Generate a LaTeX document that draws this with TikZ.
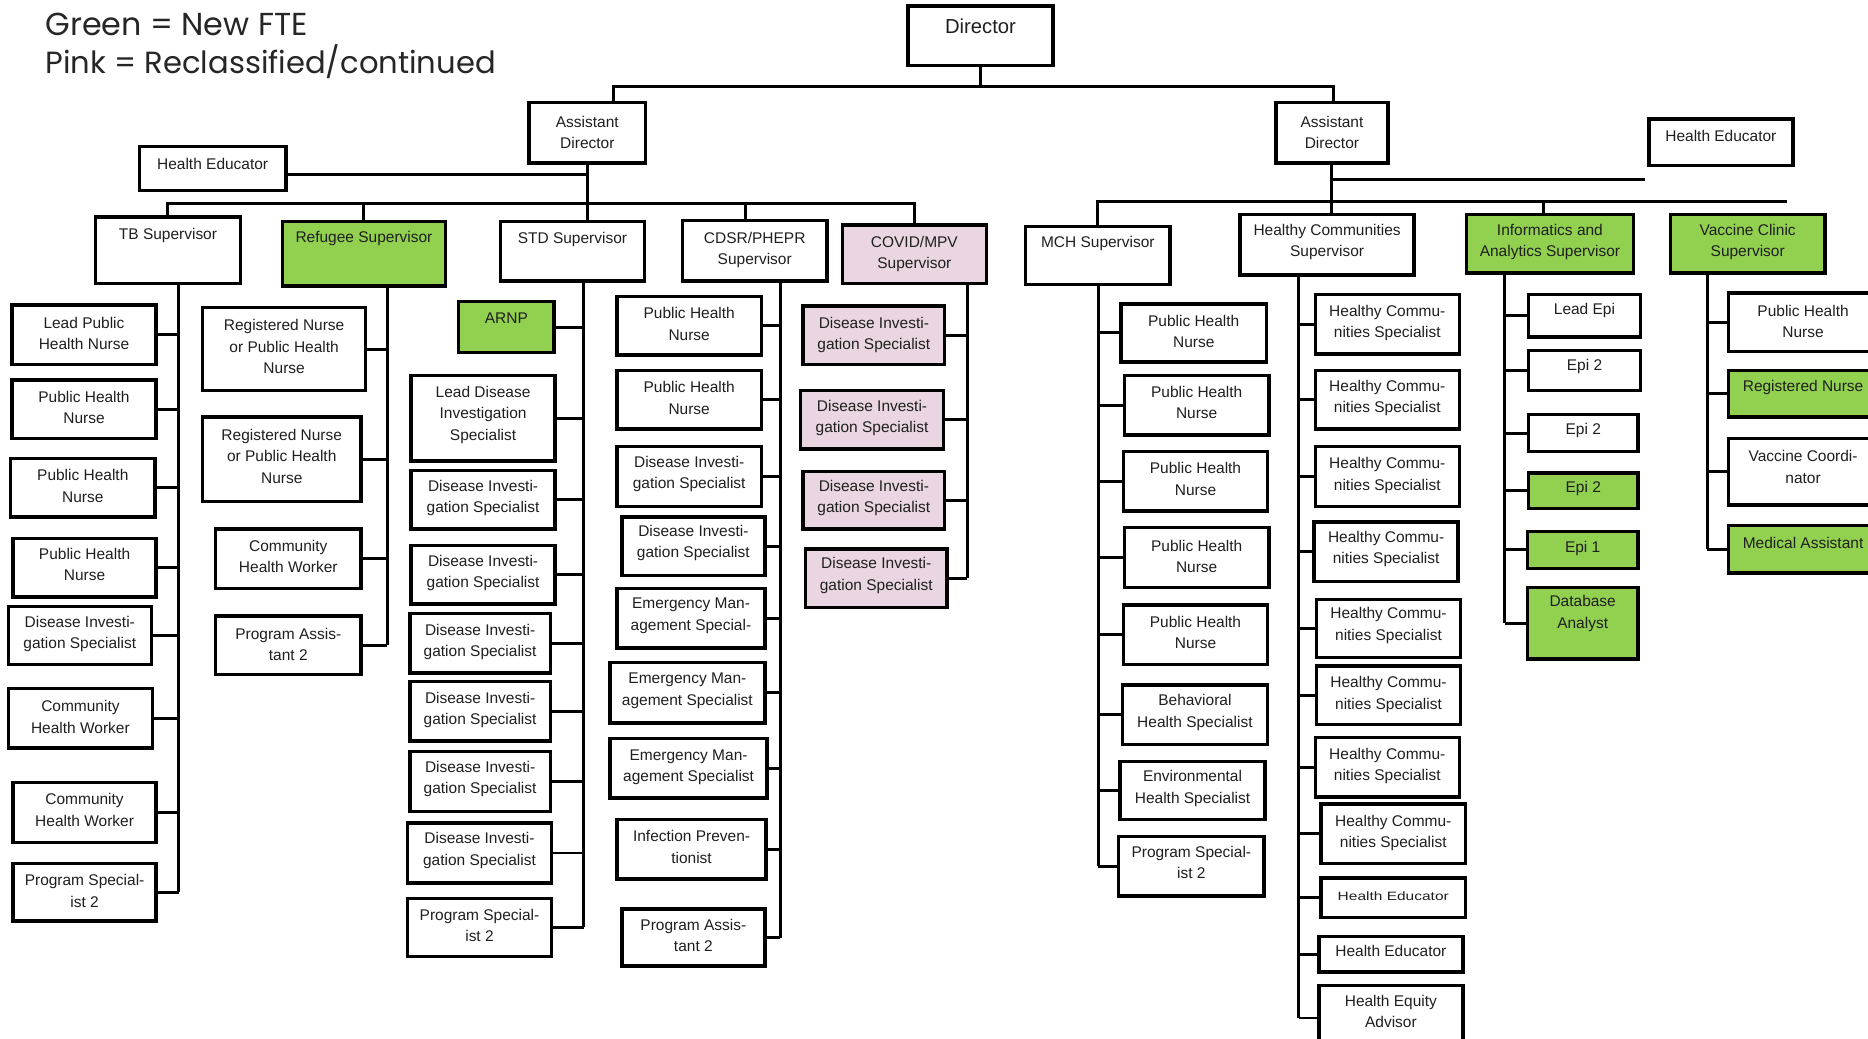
\documentclass[tikz,border=0pt]{standalone}
\usepackage{fontspec}
\setmainfont{Liberation Sans}
\newfontfamily\legendfont{Poppins}
\usepackage{graphicx}
\definecolor{newfte}{RGB}{146,208,80}
\definecolor{reclass}{RGB}{233,214,226}
\tikzset{
  box/.style={draw=black, line width=2.9pt, fill=white, rectangle, inner sep=0pt, outer sep=0pt},
  fte/.style={fill=newfte},
  pinkbox/.style={fill=reclass},
  lbl/.style={inner sep=0pt, align=center, font=\fontsize{13}{18}\selectfont, text=black!88},
  conn/.style={line width=2.5pt, line join=miter},
}
% name, x1, y1, x2, y2, extra style, text, text centre y
\newcommand\orgbox[8]{%
  \node[box,#6,minimum width={(#4)-(#2)},minimum height={(#5)-(#3)}] (#1) at ({((#2)+(#4))/2},{((#3)+(#5))/2}) {};
  \node[lbl] at ({((#2)+(#4))/2},#8) {#7};
}
\begin{document}
\begin{tikzpicture}[x=1pt,y=-1pt]
\clip (0,0) rectangle (1568,872);
\fill[white] (0,0) rectangle (1568,872);

% legend
\node[anchor=base west, inner sep=0pt, text=black!85] (leg1) at (38,30) {\resizebox{220pt}{!}{\legendfont Green = New FTE}};
\node[anchor=base west, inner sep=0pt, text=black!85] (leg2) at (38,62) {\resizebox{378pt}{!}{\legendfont Pink = Reclassified/continued}};

% top levels
\node[box, line width=3.2pt, minimum width=122, minimum height=50] (dir) at (823,30) {};
\node[lbl, font=\fontsize{17}{20}\selectfont] at (823,22) {Director};
\orgbox{ad1}{444}{86}{542}{137}{}{Assistant\\Director}{111}
\orgbox{ad2}{1071}{86}{1165}{137}{}{Assistant\\Director}{111}
\orgbox{he1}{117}{123}{240}{160}{}{Health Educator}{138}
\orgbox{he2}{1384}{100}{1505}{139}{}{Health Educator}{114}

% supervisors
\orgbox{tbsup}{80}{182}{202}{238}{}{TB Supervisor}{198}
\orgbox{ref}{237}{186}{374}{240}{fte}{Refugee Supervisor}{200}
\orgbox{std}{420}{186}{541}{236}{}{STD Supervisor}{201}
\orgbox{cdsr}{573}{185}{694}{236}{}{CDSR/PHEPR\\Supervisor}{210}
\orgbox{covid}{707}{189}{828}{238}{pinkbox}{COVID/MPV\\Supervisor}{213}
\orgbox{mch}{861}{190}{982}{239}{}{MCH Supervisor}{204}
\orgbox{hcsup}{1041}{180}{1187}{231}{}{Healthy Communities\\Supervisor}{203}
\orgbox{inf}{1231}{180}{1371}{229}{fte}{Informatics and\\Analytics Supervisor}{203}
\orgbox{vac}{1402}{180}{1532}{229}{fte}{Vaccine Clinic\\Supervisor}{203}

% TB staff
\orgbox{tb1}{10}{256}{131}{306}{}{Lead Public\\Health Nurse}{280}
\orgbox{tb2}{10}{319}{131}{368}{}{Public Health\\Nurse}{342}
\orgbox{tb3}{9}{385}{130}{434}{}{Public Health\\Nurse}{408}
\orgbox{tb4}{11}{452}{131}{501}{}{Public Health\\Nurse}{474}
\orgbox{tb5}{7}{509}{127}{558}{}{Disease Investi-\\gation Specialist}{532}
\orgbox{tb6}{7}{578}{128}{628}{}{Community\\Health Worker}{602}
\orgbox{tb7}{11}{657}{131}{707}{}{Community\\Health Worker}{680}
\orgbox{tb8}{11}{725}{131}{773}{}{Program Special-\\ist 2}{748}

% Refugee staff
\orgbox{rf1}{170}{258}{307}{328}{}{Registered Nurse\\or Public Health\\Nurse}{291}
\orgbox{rf2}{170}{350}{303}{421}{}{Registered Nurse\\or Public Health\\Nurse}{383}
\orgbox{rf3}{181}{444}{303}{494}{}{Community\\Health Worker}{467}
\orgbox{rf4}{181}{517}{303}{566}{}{Program Assis-\\tant 2}{541}

% STD staff
\orgbox{sd1}{385}{253}{465}{296}{fte}{ARNP}{267}
\orgbox{sd2}{345}{315}{466}{387}{}{Lead Disease\\Investigation\\Specialist}{348}
\orgbox{sd3}{345}{395}{466}{444}{}{Disease Investi-\\gation Specialist}{418}
\orgbox{sd4}{345}{458}{466}{507}{}{Disease Investi-\\gation Specialist}{481}
\orgbox{sd5}{344}{515}{462}{565}{}{Disease Investi-\\gation Specialist}{539}
\orgbox{sd6}{344}{572}{462}{622}{}{Disease Investi-\\gation Specialist}{596}
\orgbox{sd7}{344}{631}{462}{681}{}{Disease Investi-\\gation Specialist}{654}
\orgbox{sd8}{342}{691}{463}{741}{}{Disease Investi-\\gation Specialist}{714}
\orgbox{sd9}{342}{754}{463}{803}{}{Program Special-\\ist 2}{777}

% CDSR/PHEPR staff
\orgbox{cd1}{518}{249}{639}{298}{}{Public Health\\Nurse}{272}
\orgbox{cd2}{518}{311}{639}{360}{}{Public Health\\Nurse}{334}
\orgbox{cd3}{518}{375}{639}{425}{}{Disease Investi-\\gation Specialist}{398}
\orgbox{cd4}{522}{434}{642}{483}{}{Disease Investi-\\gation Specialist}{456}
\orgbox{cd5}{518}{494}{642}{544}{}{Emergency Man-\\agement Special-}{517}
\orgbox{cd6}{512}{556}{642}{607}{}{Emergency Man-\\agement Specialist}{580}
\orgbox{cd7}{512}{620}{644}{670}{}{Emergency Man-\\agement Specialist}{644}
\orgbox{cd8}{518}{688}{643}{738}{}{Infection Preven-\\tionist}{711}
\orgbox{cd9}{522}{763}{642}{811}{}{Program Assis-\\tant 2}{785}

% COVID/MPV staff
\orgbox{cv1}{674}{257}{793}{306}{pinkbox}{Disease Investi-\\gation Specialist}{281}
\orgbox{cv2}{672}{328}{792}{377}{pinkbox}{Disease Investi-\\gation Specialist}{351}
\orgbox{cv3}{674}{396}{793}{444}{pinkbox}{Disease Investi-\\gation Specialist}{418}
\orgbox{cv4}{676}{461}{795}{510}{pinkbox}{Disease Investi-\\gation Specialist}{483}

% MCH staff
\orgbox{m1}{941}{255}{1063}{304}{}{Public Health\\Nurse}{278}
\orgbox{m2}{944}{315}{1065}{365}{}{Public Health\\Nurse}{338}
\orgbox{m3}{943}{379}{1064}{429}{}{Public Health\\Nurse}{402}
\orgbox{m4}{944}{443}{1065}{493}{}{Public Health\\Nurse}{467}
\orgbox{m5}{943}{508}{1064}{558}{}{Public Health\\Nurse}{531}
\orgbox{m6}{942}{575}{1064}{625}{}{Behavioral\\Health Specialist}{598}
\orgbox{m7}{940}{639}{1062}{688}{}{Environmental\\Health Specialist}{662}
\orgbox{m8}{939}{702}{1061}{752}{}{Program Special-\\ist 2}{724}

% Healthy Communities staff
\orgbox{h1}{1104}{247}{1225}{297}{}{Healthy Commu-\\nities Specialist}{271}
\orgbox{h2}{1104}{311}{1225}{360}{}{Healthy Commu-\\nities Specialist}{334}
\orgbox{h3}{1104}{375}{1225}{425}{}{Healthy Commu-\\nities Specialist}{399}
\orgbox{h4}{1103}{438}{1224}{488}{}{Healthy Commu-\\nities Specialist}{461}
\orgbox{h5}{1105}{503}{1226}{552}{}{Healthy Commu-\\nities Specialist}{525}
\orgbox{h6}{1105}{559}{1226}{608}{}{Healthy Commu-\\nities Specialist}{583}
\orgbox{h7}{1104}{619}{1225}{669}{}{Healthy Commu-\\nities Specialist}{643}
\orgbox{h8}{1109}{675}{1230}{725}{}{Healthy Commu-\\nities Specialist}{699}
\orgbox{h9}{1109}{737}{1230}{770}{}{\scalebox{1}[0.78]{Health Educator}}{752}
\orgbox{h10}{1107}{786}{1228}{816}{}{Health Educator}{798}
\orgbox{h11}{1107}{827}{1228}{882}{}{Health Equity\\Advisor}{849}

% Informatics staff
\orgbox{i1}{1283}{247}{1377}{283}{}{Lead Epi}{261}
\orgbox{i2}{1283}{294}{1377}{328}{}{Epi 2}{308}
\orgbox{i3}{1283}{348}{1375}{379}{}{Epi 2}{361}
\orgbox{i4}{1283}{397}{1375}{427}{fte}{Epi 2}{410}
\orgbox{i5}{1282}{446}{1375}{477}{fte}{Epi 1}{460}
\orgbox{i6}{1282}{493}{1375}{553}{fte}{Database\\Analyst}{515}

% Vaccine clinic staff
\orgbox{v1}{1451}{246}{1576}{295}{}{Public Health\\Nurse}{270}
\orgbox{v2}{1451}{311}{1576}{350}{fte}{Registered Nurse}{325}
\orgbox{v3}{1451}{368}{1576}{424}{}{Vaccine Coordi-\\nator}{392}
\orgbox{v4}{1451}{441}{1576}{481}{fte}{Medical Assistant}{456}

% bus positions
\coordinate (dirbus) at (0,73);
\coordinate (hl) at (515,73);
\coordinate (hr) at (1119,73);
\coordinate (lh) at (0,171);
\coordinate (rh) at (1500,169);
\coordinate (he2end) at (1381,151);
\coordinate (tbx) at (150,0);
\coordinate (rfx) at (325,0);
\coordinate (sdx) at (490,0);
\coordinate (cdx) at (655,0);
\coordinate (cvx) at (812,0);
\coordinate (mx) at (922,0);
\coordinate (hx) at (1090,0);
\coordinate (ix) at (1263,0);
\coordinate (vx) at (1433,0);

% director to assistant directors
\draw[conn] (dir.south) -- (dir.south |- dirbus);
\draw[conn] (hl |- ad1.north) -- (hl) -- (hr) -- (hr |- ad2.north);

% left assistant director
\draw[conn] (ad1.south) -- (ad1.south |- std.north);
\draw[conn] ([yshift=-5pt]he1.east) -- ([yshift=-5pt]he1.east -| ad1.south);
\draw[conn] (tbsup.north) -- (tbsup.north |- lh) -- (covid.north |- lh) -- (covid.north);
\draw[conn] (ref.north) -- (ref.north |- lh);
\draw[conn] ([xshift=-8pt]cdsr.north) -- ([xshift=-8pt]cdsr.north |- lh);

% right assistant director
\draw[conn] (ad2.south) -- (ad2.south |- hcsup.north);
\draw[conn] (ad2.south |- he2end) -- (he2end);
\draw[conn] (mch.north) -- (mch.north |- rh) -- (rh);
\draw[conn] ([xshift=-5pt]inf.north) -- ([xshift=-5pt]inf.north |- rh);

% staff buses, left side (boxes to the left of the bus)
\draw[conn] (tbx |- tbsup.south) -- (tbx |- tb8.east);
\foreach \i in {1,...,8} \draw[conn] (tb\i.east) -- (tb\i.east -| tbx);
\draw[conn] (rfx |- ref.south) -- (rfx |- rf4.east);
\foreach \i in {1,...,4} \draw[conn] (rf\i.east) -- (rf\i.east -| rfx);
\draw[conn] (sdx |- std.south) -- (sdx |- sd9.east);
\foreach \i in {1,...,9} \draw[conn] (sd\i.east) -- (sd\i.east -| sdx);
\draw[conn] (cdx |- cdsr.south) -- (cdx |- cd9.east);
\foreach \i in {1,...,9} \draw[conn] (cd\i.east) -- (cd\i.east -| cdx);
\draw[conn] (cvx |- covid.south) -- (cvx |- cv4.east);
\foreach \i in {1,...,4} \draw[conn] (cv\i.east) -- (cv\i.east -| cvx);

% staff buses, right side (boxes to the right of the bus)
\draw[conn] (mx |- mch.south) -- (mx |- m8.west);
\foreach \i in {1,...,8} \draw[conn] (m\i.west) -- (m\i.west -| mx);
\draw[conn] (hx |- hcsup.south) -- (hx |- h11.west);
\foreach \i in {1,...,11} \draw[conn] (h\i.west) -- (h\i.west -| hx);
\draw[conn] (ix |- inf.south) -- (ix |- i6.west);
\foreach \i in {1,...,6} \draw[conn] (i\i.west) -- (i\i.west -| ix);
\draw[conn] (vx |- vac.south) -- (vx |- v4.west);
\foreach \i in {1,...,4} \draw[conn] (v\i.west) -- (v\i.west -| vx);
\end{tikzpicture}
\end{document}
